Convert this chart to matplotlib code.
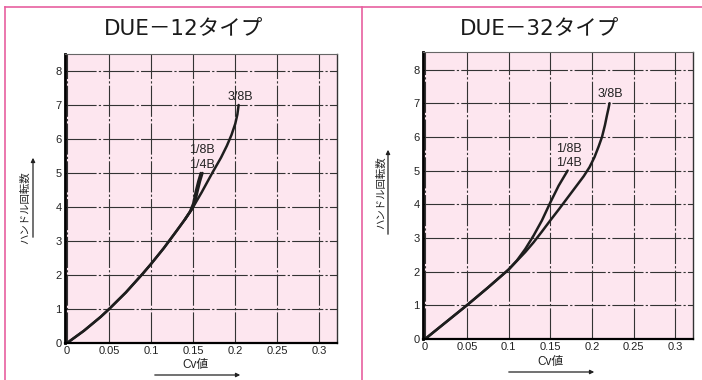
import matplotlib.pyplot as plt
from matplotlib.lines import Line2D

plt.rcParams['font.family'] = ['Liberation Sans', 'Noto Sans CJK JP']

# ---- data ----
titles = ['DUE－12タイプ', 'DUE－32タイプ']
x_ticks = [0, 0.05, 0.1, 0.15, 0.2, 0.25, 0.3]
x_ticklabels = ['0', '0.05', '0.1', '0.15', '0.2', '0.25', '0.3']
y_ticks = [0, 1, 2, 3, 4, 5, 6, 7, 8]

# DUE-12: 1/8B and 1/4B (nearly the same curve)
d12_small_x = [0, 0.02, 0.04, 0.05, 0.07, 0.09, 0.1, 0.115, 0.13, 0.14, 0.148, 0.152, 0.155, 0.158, 0.161]
d12_small_y = [0, 0.36, 0.77, 1.0, 1.49, 2.04, 2.33, 2.79, 3.29, 3.63, 3.92, 4.12, 4.45, 4.75, 5.0]
d12_small2_x = [0.14, 0.146, 0.15, 0.153, 0.156, 0.159]
d12_small2_y = [3.63, 3.86, 4.1, 4.45, 4.75, 5.0]
# DUE-12: 3/8B
d12_large_x = [0, 0.02, 0.04, 0.05, 0.07, 0.09, 0.1, 0.115, 0.13, 0.14, 0.148, 0.16, 0.1726, 0.183, 0.19, 0.1955, 0.2, 0.2025, 0.204]
d12_large_y = [0, 0.36, 0.77, 1.0, 1.49, 2.04, 2.33, 2.79, 3.29, 3.63, 3.92, 4.43, 5.0, 5.45, 5.8, 6.12, 6.45, 6.72, 7.0]

# DUE-32: 1/8B, 1/4B
d32_small_x = [0, 0.025, 0.05, 0.075, 0.1, 0.11, 0.12, 0.13, 0.14, 0.15, 0.16, 0.1708]
d32_small_y = [0, 0.5, 1.0, 1.52, 2.06, 2.33, 2.67, 3.07, 3.52, 4.05, 4.55, 5.0]
# DUE-32: 3/8B
d32_large_x = [0, 0.025, 0.05, 0.075, 0.1, 0.11, 0.12, 0.13, 0.14, 0.15, 0.16, 0.17, 0.18, 0.19, 0.197, 0.203, 0.208, 0.212, 0.2155, 0.218, 0.2198, 0.221]
d32_large_y = [0, 0.5, 1.0, 1.52, 2.06, 2.32, 2.58, 2.87, 3.19, 3.52, 3.84, 4.17, 4.5, 4.83, 5.1, 5.4, 5.72, 6.0, 6.35, 6.65, 6.85, 7.0]

# label positions (x, y) per panel
labels_12 = [('3/8B', 0.206, 7.24), ('1/8B', 0.1607, 5.67), ('1/4B', 0.1607, 5.23)]
labels_32 = [('3/8B', 0.222, 7.26), ('1/8B', 0.172, 5.63), ('1/4B', 0.172, 5.21)]

W, H = 702, 380
fig = plt.figure(figsize=(W / 100, H / 100), dpi=100)
pink_line = '#e8609f'
bg = '#fde6ef'
ink = '#1e1e1e'


def px(x0, y0, x1, y1):
    # pixel box -> figure fraction [left, bottom, width, height]
    return [x0 / W, 1 - y1 / H, (x1 - x0) / W, (y1 - y0) / H]


ax1 = fig.add_axes(px(65, 54, 337, 343))
ax2 = fig.add_axes(px(423, 52, 693, 339))

curves = [
    [(d12_small_x, d12_small_y), (d12_small2_x, d12_small2_y), (d12_large_x, d12_large_y)],
    [(d32_small_x, d32_small_y), (d32_large_x, d32_large_y)],
]

for ax, cs, labs, ytop in [(ax1, curves[0], labels_12, 8.5), (ax2, curves[1], labels_32, 8.52)]:
    ax.set_facecolor(bg)
    ax.set_xlim(-0.0025, 0.321)
    ax.set_ylim(0, ytop)
    ax.set_xticks(x_ticks)
    ax.set_xticklabels(x_ticklabels)
    ax.set_yticks(y_ticks)
    ax.tick_params(length=0, labelsize=8, pad=2.5, colors='#222222')
    ax.grid(True, color='#333333', lw=0.8, ls=(0, (28, 2, 2, 2)))
    ax.set_axisbelow(True)
    ax.spines['left'].set_linewidth(2.0)
    ax.spines['bottom'].set_linewidth(1.6)
    ax.spines['top'].set_linewidth(0.8)
    ax.spines['top'].set_color('#666666')
    ax.spines['right'].set_linewidth(1.0)
    ax.spines['right'].set_color('#333333')
    for cx, cy in cs:
        ax.plot(cx, cy, color=ink, lw=1.8, solid_capstyle='round', solid_joinstyle='round')
    for t, lx, ly in labs:
        ax.text(lx, ly, t, ha='center', va='center', fontsize=9, color='#222222')

# titles
for cx, t in [(184, titles[0]), (540, titles[1])]:
    fig.text(cx / W, 1 - 29 / H, t, ha='center', va='center', fontsize=15.5,
             family=['DejaVu Sans', 'Noto Sans CJK JP'], color='#1a1a1a')

# axis labels with arrows
for tx, lx, ytext, y0, y1 in [(25, 33, 208, 240, 155), (381, 388, 193, 237, 147)]:
    fig.text(tx / W, 1 - ytext / H, 'ハンドル回転数', rotation=90, ha='center', va='center',
             fontsize=7.5, family=['Noto Sans CJK JP'], color='#222222')
    fig.add_artist(plt.Annotation('', xy=(lx / W, 1 - y1 / H), xytext=(lx / W, 1 - y0 / H),
                                  xycoords='figure fraction',
                                  arrowprops=dict(arrowstyle='-|>', color='#222222', lw=0.9,
                                                  mutation_scale=6)))
for cx, ty, x0, x1, ay in [(195, 365, 152, 243, 375), (550, 362, 506, 597, 372)]:
    fig.text(cx / W, 1 - ty / H, 'Cv値', ha='center', va='center', fontsize=8.5, color='#222222')
    fig.add_artist(plt.Annotation('', xy=(x1 / W, 1 - ay / H), xytext=(x0 / W, 1 - ay / H),
                                  xycoords='figure fraction',
                                  arrowprops=dict(arrowstyle='-|>', color='#222222', lw=0.9,
                                                  mutation_scale=6)))

# pink frame
fig.add_artist(Line2D([5 / W, 1], [1 - 7 / H, 1 - 7 / H], color=pink_line, lw=1.2))
fig.add_artist(Line2D([5 / W, 5 / W], [0, 1 - 7 / H], color=pink_line, lw=1.2))
fig.add_artist(Line2D([362 / W, 362 / W], [0, 1 - 7 / H], color=pink_line, lw=1.2))

fig.savefig('out.png', dpi=100)
